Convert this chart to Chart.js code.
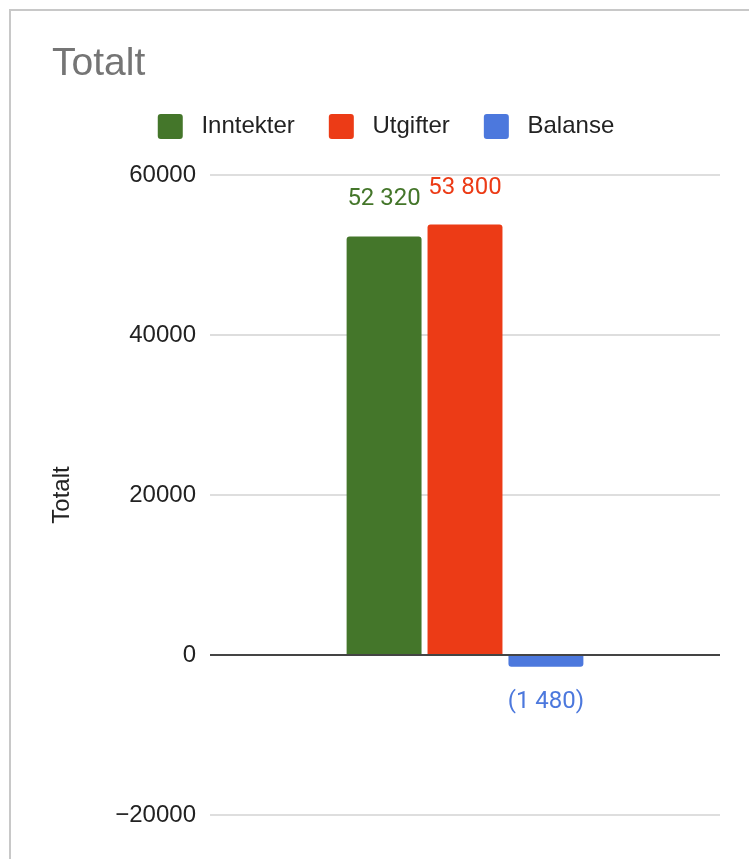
<!DOCTYPE html>
<html>
<head>
<meta charset="utf-8">
<script src="https://cdn.jsdelivr.net/npm/chart.js@4"></script>
<style>
  body { margin: 0; background: #fff; }
  #frame { position: absolute; left: 9px; top: 9px; width: 800px; height: 900px; border: 2px solid #c8c8c8; box-sizing: border-box; }
  #c { position: absolute; left: 11px; top: 11px; }
</style>
</head>
<body>
<div id="frame"></div>
<canvas id="c" width="740" height="848"></canvas>
<script>
// data
const categories = [''];
const seriesNames = ['Inntekter', 'Utgifter', 'Balanse'];
const inntekter = [52320];
const utgifter = [53800];
const balanse = [-1480];
const yTicks = [-20000, 0, 20000, 40000, 60000];
const colors = ['#44762A', '#EC3B16', '#4C78DD'];

// "52 320", negatives in brackets: "(1 480)"
function fmt(v){
  const s = Math.abs(v).toString().replace(/\B(?=(\d{3})+(?!\d))/g, ' ');
  return v < 0 ? '(' + s + ')' : s;
}

// value labels above / below each bar
const valueLabels = {
  id: 'valueLabels',
  afterDatasetsDraw(chart){
    const ctx = chart.ctx;
    ctx.save();
    ctx.font = '24px Roboto';
    ctx.textAlign = 'center';
    ctx.textBaseline = 'middle';
    chart.data.datasets.forEach((ds, i) => {
      chart.getDatasetMeta(i).data.forEach((bar, j) => {
        const v = ds.data[j];
        ctx.fillStyle = ds.backgroundColor;
        ctx.fillText(fmt(v), bar.x, v >= 0 ? bar.y - 37 : bar.y + 35);
      });
    });
    ctx.restore();
  }
};

// extra room between legend and plot
const legendGap = {
  id: 'legendGap',
  beforeInit(chart){
    const fit = chart.legend.fit;
    chart.legend.fit = function(){ fit.call(this); this.height += 26; };
  }
};

const data = [inntekter, utgifter, balanse];

new Chart(document.getElementById('c'), {
  type: 'bar',
  data: {
    labels: categories,
    datasets: seriesNames.map((name, i) => ({
      label: name,
      data: data[i],
      backgroundColor: colors[i],
      borderRadius: 3,
      categoryPercentage: 0.476,
      barPercentage: 0.926
    }))
  },
  options: {
    responsive: false,
    animation: false,
    layout: { padding: { left: 41, right: 31, top: 0, bottom: 44 } },
    plugins: {
      title: {
        display: true,
        text: 'Totalt',
        align: 'start',
        color: '#757575',
        font: { family: 'Liberation Sans', size: 39, weight: 'normal', lineHeight: 1 },
        padding: { top: 34, bottom: -4 }
      },
      legend: {
        position: 'top',
        labels: {
          boxWidth: 25,
          boxHeight: 25,
          useBorderRadius: true,
          borderRadius: 3,
          padding: 34,
          color: '#222',
          font: { family: 'Liberation Sans', size: 24 },
          generateLabels(chart){
            return Chart.defaults.plugins.legend.labels.generateLabels(chart)
              .map(l => ({ ...l, text: ' ' + l.text, lineWidth: 0 }));
          }
        }
      },
      tooltip: { enabled: false }
    },
    scales: {
      x: { display: false },
      y: {
        min: yTicks[0],
        max: yTicks[yTicks.length - 1],
        afterBuildTicks(axis){ axis.ticks = yTicks.map(v => ({ value: v })); },
        afterFit(scale){ scale.width = 158; },
        border: { display: false },
        grid: {
          drawTicks: false,
          color: c => c.tick && c.tick.value === 0 ? '#444' : '#dedede',
          lineWidth: 2
        },
        ticks: {
          padding: 14,
          color: '#222',
          font: { family: 'Liberation Sans', size: 24 },
          callback: v => v < 0 ? '\u2212' + Math.abs(v) : String(v)
        },
        title: {
          display: true,
          text: 'Totalt',
          color: '#222',
          font: { family: 'Liberation Sans', size: 24, lineHeight: 1 },
          padding: { top: -2, bottom: 0 }
        }
      }
    }
  },
  plugins: [valueLabels, legendGap]
});
</script>
</body>
</html>
